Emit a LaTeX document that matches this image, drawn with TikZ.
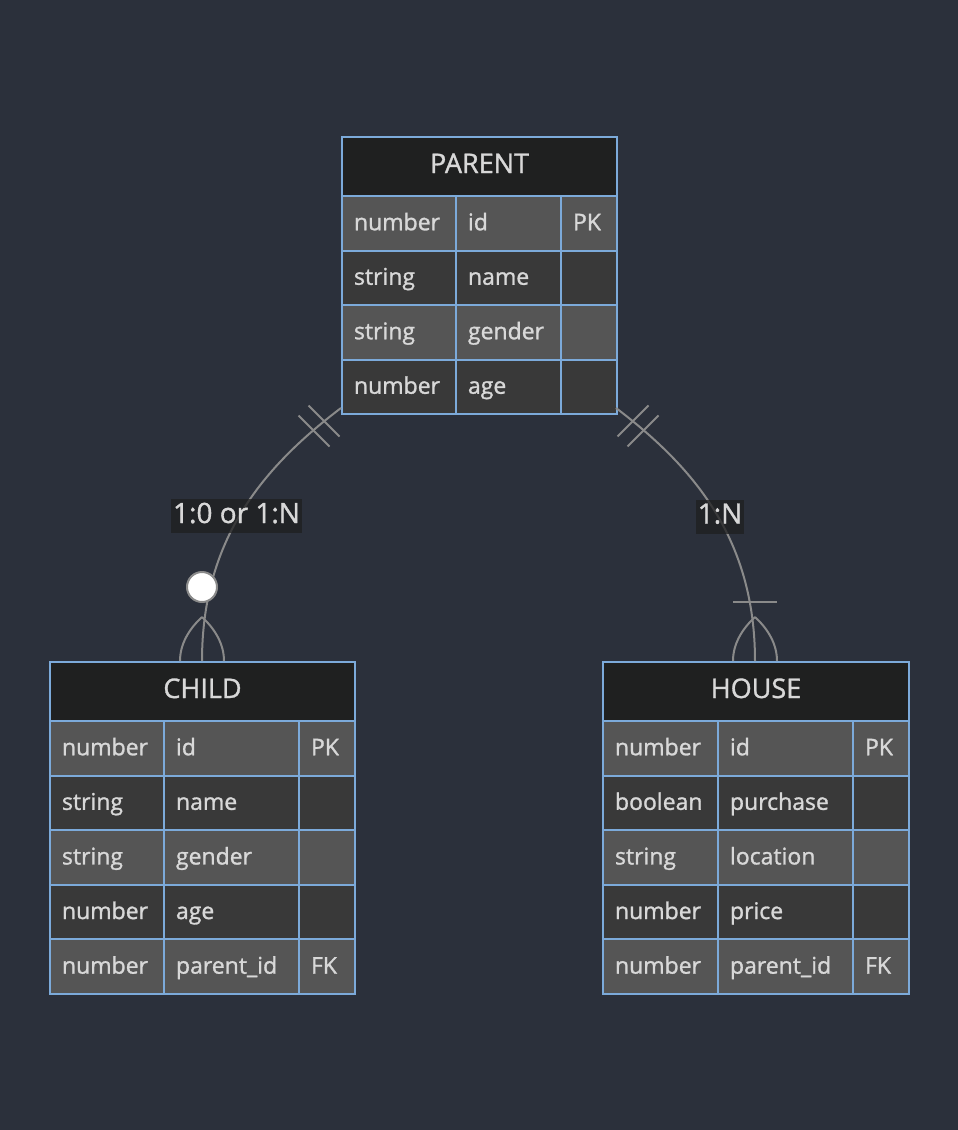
\documentclass[tikz,border=0pt]{standalone}
\usepackage{fontspec}
\setmainfont{Open Sans}
\newfontfamily\erfont{Open Sans}[FakeBold=1.2]
\definecolor{bg}{HTML}{2B303B}
\definecolor{bord}{HTML}{7CAADA}
\definecolor{hdrfill}{HTML}{1F2020}
\definecolor{oddfill}{HTML}{555555}
\definecolor{evenfill}{HTML}{393939}
\definecolor{txt}{HTML}{D8D8D8}
\definecolor{relc}{HTML}{8A8A8A}
\definecolor{lblfill}{HTML}{1E1F20}
\newcommand\ercell[7]{% name, x, y, width, textwidth, fill style, text
  \node[cell,#6,minimum width=#4pt,text width=#5pt] (#1) at (#2,#3) {#7};}
\begin{document}
\begin{tikzpicture}[x=1pt,y=-1pt,
  hdr/.style={draw=bord,line width=2pt,fill=hdrfill,text=txt,
    font=\erfont\fontsize{27}{30}\selectfont,anchor=north west,inner sep=0pt,
    minimum height=59pt,text height=17pt,text depth=4pt},
  cell/.style={draw=bord,line width=2pt,text=txt,
    font=\erfont\fontsize{23}{26}\selectfont,anchor=north west,inner xsep=12pt,
    inner ysep=0pt,align=left,text height=18pt,text depth=4pt,
    minimum height=54.5pt},
  oddrow/.style={fill=oddfill},
  evenrow/.style={fill=evenfill},
  rel/.style={draw=relc,line width=2pt},
  relmark/.style={draw=relc,line width=2pt},
  lbl/.style={fill=lblfill,fill opacity=0.75,text opacity=1,text=txt,
    font=\erfont\fontsize{28}{30}\selectfont,inner xsep=2pt,inner ysep=4pt,
    text height=20pt,text depth=6pt}
]
\useasboundingbox[fill=bg] (0,0) rectangle (958,1130);

% PARENT
\node[hdr,minimum width=275pt] (parent) at (341,136) {PARENT};
\ercell{p1a}{341}{195}{114}{90}{oddrow}{number}
\ercell{p1b}{455}{195}{105}{81}{oddrow}{id}
\ercell{p1c}{560}{195}{56}{32}{oddrow}{PK}
\ercell{p2a}{341}{249.5}{114}{90}{evenrow}{string}
\ercell{p2b}{455}{249.5}{105}{81}{evenrow}{name}
\ercell{p2c}{560}{249.5}{56}{32}{evenrow}{}
\ercell{p3a}{341}{304}{114}{90}{oddrow}{string}
\ercell{p3b}{455}{304}{105}{81}{oddrow}{gender}
\ercell{p3c}{560}{304}{56}{32}{oddrow}{}
\ercell{p4a}{341}{358.5}{114}{90}{evenrow}{number}
\ercell{p4b}{455}{358.5}{105}{81}{evenrow}{age}
\ercell{p4c}{560}{358.5}{56}{32}{evenrow}{}

% CHILD
\node[hdr,minimum width=305pt] (child) at (49,661) {CHILD};
\ercell{c1a}{49}{720}{114}{90}{oddrow}{number}
\ercell{c1b}{163}{720}{135}{111}{oddrow}{id}
\ercell{c1c}{298}{720}{56}{32}{oddrow}{PK}
\ercell{c2a}{49}{774.6}{114}{90}{evenrow}{string}
\ercell{c2b}{163}{774.6}{135}{111}{evenrow}{name}
\ercell{c2c}{298}{774.6}{56}{32}{evenrow}{}
\ercell{c3a}{49}{829.2}{114}{90}{oddrow}{string}
\ercell{c3b}{163}{829.2}{135}{111}{oddrow}{gender}
\ercell{c3c}{298}{829.2}{56}{32}{oddrow}{}
\ercell{c4a}{49}{883.8}{114}{90}{evenrow}{number}
\ercell{c4b}{163}{883.8}{135}{111}{evenrow}{age}
\ercell{c4c}{298}{883.8}{56}{32}{evenrow}{}
\ercell{c5a}{49}{938.4}{114}{90}{oddrow}{number}
\ercell{c5b}{163}{938.4}{135}{111}{oddrow}{parent\_id}
\ercell{c5c}{298}{938.4}{56}{32}{oddrow}{FK}

% HOUSE
\node[hdr,minimum width=306pt] (house) at (602,661) {HOUSE};
\ercell{h1a}{602}{720}{115}{91}{oddrow}{number}
\ercell{h1b}{717}{720}{135}{111}{oddrow}{id}
\ercell{h1c}{852}{720}{56}{32}{oddrow}{PK}
\ercell{h2a}{602}{774.6}{115}{91}{evenrow}{boolean}
\ercell{h2b}{717}{774.6}{135}{111}{evenrow}{purchase}
\ercell{h2c}{852}{774.6}{56}{32}{evenrow}{}
\ercell{h3a}{602}{829.2}{115}{91}{oddrow}{string}
\ercell{h3b}{717}{829.2}{135}{111}{oddrow}{location}
\ercell{h3c}{852}{829.2}{56}{32}{oddrow}{}
\ercell{h4a}{602}{883.8}{115}{91}{evenrow}{number}
\ercell{h4b}{717}{883.8}{135}{111}{evenrow}{price}
\ercell{h4c}{852}{883.8}{56}{32}{evenrow}{}
\ercell{h5a}{602}{938.4}{115}{91}{oddrow}{number}
\ercell{h5b}{717}{938.4}{135}{111}{oddrow}{parent\_id}
\ercell{h5c}{852}{938.4}{56}{32}{oddrow}{FK}

% relationship end points
\coordinate (ls) at (341,408);
\coordinate (le) at (202,661);
\coordinate (rs) at (616,408);
\coordinate (re) at (755,661);

% PARENT -- CHILD
\draw[rel] (ls) .. controls (262,468) and (202,540) .. (le);
\draw[relmark] (308.5,405.5) -- (339.5,436.5);
\draw[relmark] (298.5,415.5) -- (329.5,446.5);
\draw[relmark] (202,617) .. controls (188,630) and (180,645) .. (180,661);
\draw[relmark] (202,617) .. controls (216,630) and (224,645) .. (224,661);
\draw[relmark,fill=white] (202,587) circle[radius=15pt];
\node[lbl] (l1) at (236.5,516) {1:0 or 1:N};

% PARENT -- HOUSE
\draw[rel] (rs) .. controls (695,468) and (755,540) .. (re);
\draw[relmark] (617.5,436.5) -- (648.5,405.5);
\draw[relmark] (627.5,446.5) -- (658.5,415.5);
\draw[relmark] (733,602) -- (777,602);
\draw[relmark] (755,617) .. controls (741,630) and (733,645) .. (733,661);
\draw[relmark] (755,617) .. controls (769,630) and (777,645) .. (777,661);
\node[lbl] (l2) at (720,516.5) {1:N};
\end{tikzpicture}
\end{document}
